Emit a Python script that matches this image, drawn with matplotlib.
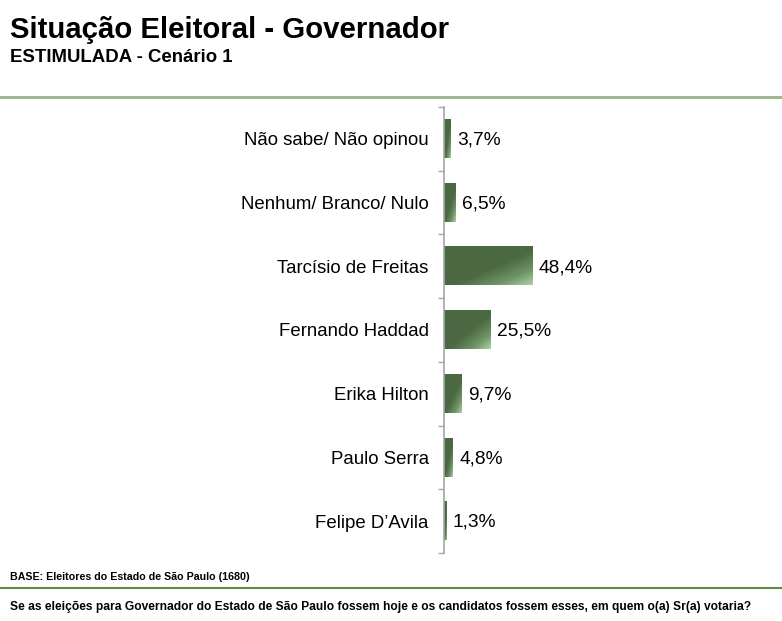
import numpy as np
import matplotlib.pyplot as plt
from matplotlib.colors import LinearSegmentedColormap
from matplotlib.lines import Line2D

# dados
categorias = ["Não sabe/ Não opinou", "Nenhum/ Branco/ Nulo", "Tarcísio de Freitas",
              "Fernando Haddad", "Erika Hilton", "Paulo Serra", "Felipe D’Avila"]
valores = [3.7, 6.5, 48.4, 25.5, 9.7, 4.8, 1.3]
rotulos = ["3,7%", "6,5%", "48,4%", "25,5%", "9,7%", "4,8%", "1,3%"]

plt.rcParams['font.family'] = ['Liberation Sans', 'DejaVu Sans']

W, H = 782, 621
fig = plt.figure(figsize=(W / 100, H / 100), dpi=100)

# eixo: x=444px .. 782px, y=107px .. 553px
ax = fig.add_axes([444 / W, 1 - 553 / H, (W - 444) / W, (553 - 107) / H])

# gradiente diagonal das barras
cmap = LinearSegmentedColormap.from_list(
    "verde", [(0, "#4b6942"), (0.55, "#4b6942"), (0.8, "#6f9466"), (1, "#a9d3a3")])
gx, gy = np.meshgrid(np.linspace(0, 1, 80), np.linspace(0, 1, 40))
grad = (gx + gy) / 2

alt = 0.6
for i, v in enumerate(valores):
    ax.imshow(grad, cmap=cmap, vmin=0, vmax=1, origin="upper", aspect="auto",
              extent=(0, v, i + alt / 2, i - alt / 2), interpolation="bilinear", zorder=2)
    ax.text(v + 3.5, i + 0.02, rotulos[i], va="center", ha="left", fontsize=13.8, color="black")

ax.set_xlim(0, (W - 444) / 1.82)
ax.set_ylim(len(valores) - 0.5, -0.5)
ax.set_yticks(range(len(categorias)))
ax.set_yticklabels(categorias, fontsize=13.4)
ax.set_yticks(np.arange(-0.5, len(categorias), 1), minor=True)
ax.tick_params(axis="y", which="major", length=0, pad=11)
ax.tick_params(axis="y", which="minor", length=4, color="#a6a6a6", width=1)
ax.set_xticks([])
for s in ["top", "right", "bottom"]:
    ax.spines[s].set_visible(False)
ax.spines["left"].set_color("#a6a6a6")
ax.spines["left"].set_linewidth(1.2)

# títulos
fig.text(10 / W, 1 - 30 / H, "Situação Eleitoral - Governador", fontsize=21.2,
         fontweight="bold", va="center", ha="left")
fig.text(10 / W, 1 - 57 / H, "ESTIMULADA - Cenário 1", fontsize=13.4,
         fontweight="bold", va="center", ha="left")

# linhas de separação
fig.add_artist(Line2D([0, 1], [1 - 97 / H, 1 - 97 / H], color="#9db38c", linewidth=2))
fig.add_artist(Line2D([0, 1], [1 - 588 / H, 1 - 588 / H], color="#5e8a45", linewidth=1.5))

# rodapé
fig.text(10 / W, 1 - 577 / H, "BASE: Eleitores do Estado de São Paulo (1680)", fontsize=7.7,
         fontweight="bold", va="center", ha="left")
fig.text(10 / W, 1 - 607 / H,
         "Se as eleições para Governador do Estado de São Paulo fossem hoje e os candidatos fossem esses, em quem o(a) Sr(a) votaria?",
         fontsize=8.65, fontweight="bold", va="center", ha="left")

fig.savefig("out.png", dpi=100)
